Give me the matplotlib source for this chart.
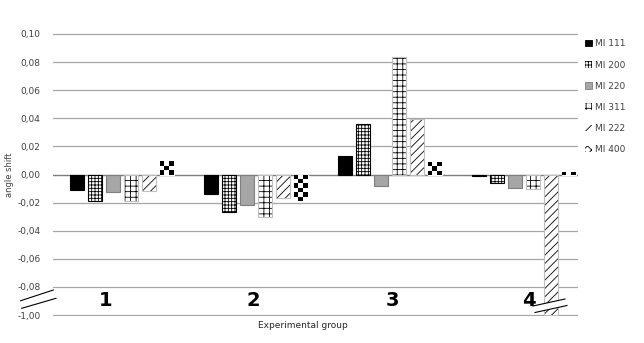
import matplotlib
matplotlib.use("Agg")
import matplotlib.pyplot as plt
import numpy as np
from matplotlib.patches import Patch, Polygon, Rectangle
from matplotlib.lines import Line2D

# Data
groups = ['1', '2', '3', '4']
series = ['MI 111', 'MI 200', 'MI 220', 'MI 311', 'MI 222', 'MI 400']
mi111 = [-0.011, -0.014, 0.013, -0.0012]
mi200 = [-0.019, -0.027, 0.0357, -0.006]
mi220 = [-0.0124, -0.0217, -0.008, -0.0098]
mi311 = [-0.019, -0.030, 0.0833, -0.0105]
mi222 = [-0.012, -0.0167, 0.0398, -1.00]
mi400 = [0.0095, -0.019, 0.009, 0.0017]
yticks = [0.10, 0.08, 0.06, 0.04, 0.02, 0.00, -0.02, -0.04, -0.06, -0.08, -0.10]
ytick_labels = ['0,10', '0,08', '0,06', '0,04', '0,02', '0,00', '-0,02', '-0,04', '-0,06', '-0,08', '-1,00']

values = [mi111, mi200, mi220, mi311, mi222, mi400]


def to_axis(v):
    # broken axis: values below -0.09 sit on the bottom (-1,00) line
    return -0.10 + (v + 1.00) if v < -0.09 else v


plt.rcParams['hatch.linewidth'] = 0.6
small = ['Liberation Sans Narrow', 'DejaVu Sans']

W, H = 644, 343
fig = plt.figure(figsize=(W / 100, H / 100), dpi=100)
ax = fig.add_axes([53 / W, 1 - 316 / H, 525 / W, 283 / H])

x = np.arange(len(groups))
step = 0.133
width = 0.104

styles = [
    dict(color='black', hatch=None, edge='black'),
    dict(color='white', hatch='+++++', edge='black'),
    dict(color='#a6a6a6', hatch=None, edge='#7f7f7f'),
    dict(color='white', hatch='+++', edge='#bfbfbf'),
    dict(color='white', hatch='////', edge='#bfbfbf'),
    dict(color='white', hatch=None, edge='white'),
]

for i, (vals, st) in enumerate(zip(values, styles)):
    pos = x + (i - 2.5) * step
    hv = [to_axis(v) for v in vals]
    if st['hatch']:
        ax.bar(pos, hv, width, color=st['color'], edgecolor='black',
               hatch=st['hatch'], linewidth=0, zorder=3)
        ax.bar(pos, hv, width, color='none', edgecolor=st['edge'],
               linewidth=0.8, zorder=4)
    else:
        bars = ax.bar(pos, hv, width, color=st['color'], edgecolor=st['edge'],
                      linewidth=0.8, zorder=3)
    if i == 5:
        # checkerboard fill
        cw, ch = width / 3, 0.0032
        for b, v in zip(bars, hv):
            x0 = b.get_x()
            top = max(v, 0)
            nrow = int(np.ceil(abs(v) / ch))
            for c in range(3):
                for r in range(nrow):
                    if (c + r) % 2 == 0:
                        sq = Rectangle((x0 + c * cw, top - (r + 1) * ch), cw, ch,
                                       facecolor='black', edgecolor='none', zorder=3.5)
                        ax.add_patch(sq)
                        sq.set_clip_path(b)

ax.set_xlim(-0.515, 3.403)
ax.set_ylim(-0.1007, 0.1007)

ax.set_yticks(yticks)
ax.set_yticklabels(ytick_labels, family=small, fontsize=6.5, color='#404040')
ax.tick_params(axis='y', length=0, pad=9)
ax.set_xticks([])
ax.yaxis.grid(True, color='#a6a6a6', linewidth=0.9, zorder=0)
ax.axhline(0, color='#7f7f7f', linewidth=0.9, zorder=2)
for s in ax.spines.values():
    s.set_visible(False)

# big group labels
label_x = [-0.12, 0.98, 2.02, 3.04]
for lx, g in zip(label_x, groups):
    ax.text(lx, -0.0895, g, ha='center', va='center', fontsize=14,
            fontweight='bold', color='black', zorder=6)

ax.set_ylabel('angle shift', family=small, fontsize=6, color='#404040')
ax.yaxis.set_label_coords(-(53 - 14) / 525, 0.5)
fig.text(303 / W, 1 - 325 / H, 'Experimental group', ha='center', va='center',
         family=small, fontsize=6.5, color='#262626')


def fp(px, py):
    return (px / W, 1 - py / H)


# break marks on the axis
for (a, b) in [((20.7, 300.7), (53.3, 290)), ((21.7, 308.3), (56, 298.3))]:
    p0, p1 = fp(*a), fp(*b)
    fig.add_artist(Line2D([p0[0], p1[0]], [p0[1], p1[1]], color='black',
                          linewidth=0.8, transform=fig.transFigure))

# break on the long bar
l1 = [(533, 306), (565, 299)]
l2 = [(535, 312.5), (567, 305.5)]
gap = Polygon([fp(*l1[0]), fp(*l1[1]), fp(*l2[1]), fp(*l2[0])], closed=True,
              facecolor='white', edgecolor='none', transform=fig.transFigure,
              zorder=5)
fig.add_artist(gap)
for a, b in [l1, l2]:
    p0, p1 = fp(*a), fp(*b)
    fig.add_artist(Line2D([p0[0], p1[0]], [p0[1], p1[1]], color='black',
                          linewidth=0.8, transform=fig.transFigure, zorder=6))

# legend
handles = []
for st, name in zip(styles, series):
    if name == 'MI 400':
        handles.append(Patch(facecolor='white', edgecolor='black', hatch='xxxx', linewidth=0))
    elif st['hatch']:
        handles.append(Patch(facecolor='white', edgecolor='black', hatch=st['hatch'], linewidth=0))
    else:
        handles.append(Patch(facecolor=st['color'], edgecolor=st['edge'], linewidth=0.6))
leg = fig.legend(handles, series, loc='upper left', bbox_to_anchor=(579 / W, 1 - 33 / H),
                 frameon=False, handlelength=0.75, handleheight=0.75,
                 handletextpad=0.35, labelspacing=1.35, borderpad=0.2,
                 prop={'family': small, 'size': 6.5})
for t in leg.get_texts():
    t.set_color('#404040')

fig.savefig('out.png', dpi=100, facecolor='white')
